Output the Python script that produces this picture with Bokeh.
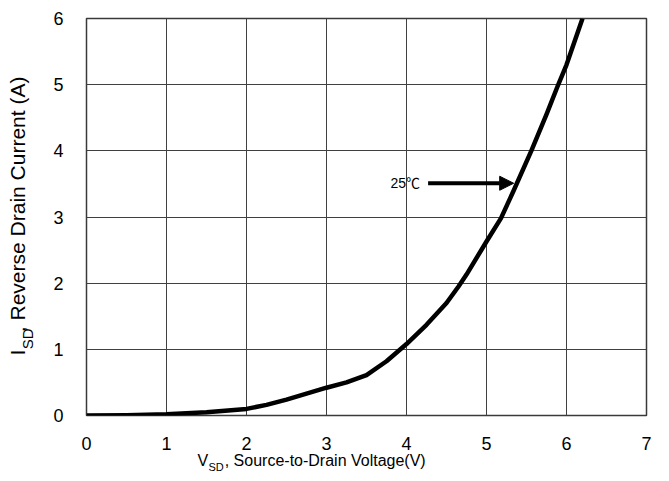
from bokeh.plotting import figure
from bokeh.models import Label, Arrow, NormalHead, FixedTicker
from bokeh.embed import file_html
from bokeh.resources import INLINE
import math

# Source-to-drain voltage (V) and reverse drain current (A) at 25 C
v_sd = [0.0, 0.5, 1.0, 1.5, 2.0, 2.25, 2.5, 2.75, 3.0, 3.25, 3.5, 3.75, 4.0,
        4.25, 4.5, 4.65, 4.75, 5.0, 5.18, 5.34, 5.56, 5.75, 5.89, 6.0, 6.2]
i_sd = [0.0, 0.005, 0.02, 0.05, 0.1, 0.16, 0.24, 0.33, 0.42, 0.5, 0.61, 0.82, 1.08,
        1.37, 1.7, 1.95, 2.13, 2.63, 2.98, 3.4, 4.0, 4.55, 4.98, 5.3, 6.0]

x_ticks = [0, 1, 2, 3, 4, 5, 6, 7]
y_ticks = [0, 1, 2, 3, 4, 5, 6]

curve_label = "25\u2103"
arrow_tail = (4.27, 3.51)
arrow_tip = (5.34, 3.51)

FONT = "Liberation Sans"
NBSP = "\u00a0"

p = figure(width=669, height=481, x_range=(0, 7), y_range=(0, 6),
           output_backend="svg", toolbar_location=None,
           min_border_left=86, min_border_right=23,
           min_border_top=18, min_border_bottom=65)
p.background_fill_color = "white"
p.border_fill_color = "white"
p.outline_line_color = "#3a3a3a"
p.outline_line_width = 1.5

for ax in (p.xaxis[0], p.yaxis[0]):
    ax.axis_line_color = None
    ax.major_tick_line_color = None
    ax.minor_tick_line_color = None
    ax.major_label_text_font = FONT
    ax.major_label_text_font_size = "18px"
    ax.major_label_text_color = "black"

p.xaxis[0].ticker = FixedTicker(ticks=x_ticks)
p.yaxis[0].ticker = FixedTicker(ticks=y_ticks)
p.xaxis[0].major_label_standoff = 15
p.yaxis[0].major_label_standoff = 17

p.xgrid[0].ticker = FixedTicker(ticks=x_ticks)
p.ygrid[0].ticker = FixedTicker(ticks=y_ticks)
for g in (p.xgrid[0], p.ygrid[0]):
    g.grid_line_color = "#404040"
    g.grid_line_width = 1

p.line(v_sd, i_sd, line_color="black", line_width=4.5, line_join="round")

p.add_layout(Arrow(end=NormalHead(size=14, fill_color="black", line_color="black"),
                   x_start=arrow_tail[0], y_start=arrow_tail[1],
                   x_end=arrow_tip[0], y_end=arrow_tip[1],
                   line_color="black", line_width=4))
p.add_layout(Label(x=4.17, y=3.51, text=curve_label,
                   text_font="Liberation Sans, Noto Sans CJK SC",
                   text_font_size="14px", text_align="right",
                   text_baseline="middle", text_color="black"))

# axis titles: main text in one label (gap kept with non-breaking spaces),
# subscript in a second one
common = dict(text_font=FONT, text_color="black",
              x_units="screen", y_units="screen")

p.add_layout(Label(x=111, y=1, text="V" + NBSP * 3 + "\u2009, Source-to-Drain Voltage(V)",
                   text_font_size="16px", **common), "below")
p.add_layout(Label(x=122, y=9, text="SD", text_font_size="11px", **common), "below")

F = 21
rot = dict(angle=math.pi / 2, **common)
p.add_layout(Label(x=1, y=60, text="I" + NBSP * 3 + ", Reverse Drain Current (A)",
                   text_font_size=f"{F}px", **rot), "left")
p.add_layout(Label(x=25, y=60 + 0.278 * F + 0.5, text="SD",
                   text_font_size="15px", **rot), "left")

open("out.html", "w").write(file_html(p, INLINE))
